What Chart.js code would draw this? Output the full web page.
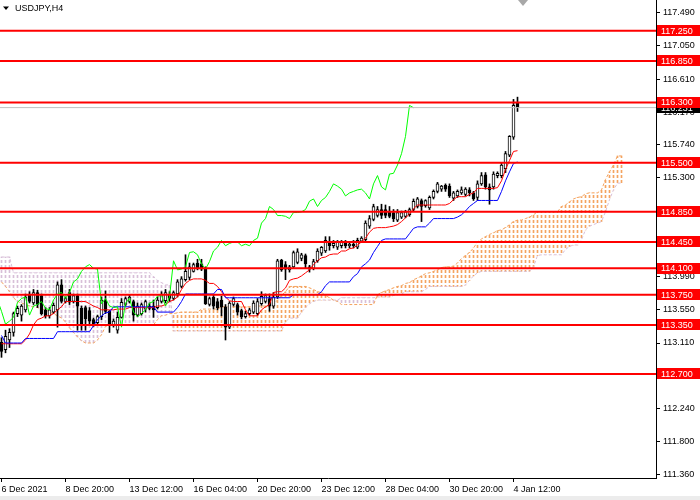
<!DOCTYPE html>
<html>
<head>
<meta charset="utf-8">
<script src="https://cdn.jsdelivr.net/npm/chart.js@4.4.1/dist/chart.umd.min.js"></script>
<style>
  html, body { margin: 0; padding: 0; background: #ececec; }
  #wrap { width: 700px; height: 496px; background: #fff; }
</style>
</head>
<body>
<div id="wrap"><canvas id="chart"></canvas></div>
<script>
const symbolTitle = "USDJPY,H4";

// H4 candles, one per bar
const opens = [
  113.12, 113.02, 113.15, 113.25, 113.50, 113.48, 113.55, 113.76, 113.64, 113.78,
  113.74, 113.55, 113.47, 113.52, 113.55, 113.88, 113.66, 113.78, 113.66, 113.74,
  113.57, 113.58, 113.54, 113.42, 113.38, 113.46, 113.68, 113.53, 113.35, 113.28,
  113.45, 113.62, 113.66, 113.66, 113.48, 113.50, 113.56, 113.60, 113.60, 113.58,
  113.66, 113.67, 113.76, 113.70, 113.76, 113.86, 113.95, 113.98, 114.06, 114.17,
  114.16, 114.10, 113.62, 113.72, 113.66, 113.68, 113.59, 113.32, 113.62, 113.62,
  113.54, 113.46, 113.50, 113.52, 113.50, 113.63, 113.66, 113.70, 113.60, 113.72,
  114.21, 114.15, 114.08, 114.12, 114.18, 114.23, 114.27, 114.12, 114.10, 114.20,
  114.30, 114.33, 114.45, 114.40, 114.38, 114.40, 114.44, 114.40, 114.42, 114.38,
  114.46, 114.48, 114.66, 114.75, 114.80, 114.88, 114.88, 114.86, 114.84, 114.74,
  114.78, 114.79, 114.81, 114.88, 114.92, 115.00, 114.93, 114.90, 115.04, 115.12,
  115.15, 115.20, 115.19, 115.03, 115.06, 115.10, 115.08, 115.14, 115.10, 115.04,
  115.22, 115.34, 115.18, 115.18, 115.33, 115.33, 115.42, 115.60, 115.84, 116.30
];
const highs = [
  113.18, 113.28, 113.30, 113.52, 113.60, 113.62, 113.76, 113.79, 113.82, 113.81,
  113.76, 113.58, 113.58, 113.64, 113.92, 113.95, 113.72, 113.82, 113.76, 113.76,
  113.60, 113.60, 113.58, 113.44, 113.48, 113.72, 113.80, 113.54, 113.43, 113.52,
  113.70, 113.72, 113.74, 113.68, 113.64, 113.64, 113.68, 113.64, 113.68, 113.72,
  113.79, 113.82, 113.79, 113.80, 113.95, 113.99, 114.28, 114.17, 114.17, 114.22,
  114.22, 114.12, 113.72, 113.75, 113.70, 113.73, 113.62, 113.66, 113.72, 113.64,
  113.56, 113.53, 113.57, 113.67, 113.70, 113.79, 113.76, 113.76, 113.78, 114.22,
  114.22, 114.19, 114.14, 114.33, 114.36, 114.30, 114.29, 114.14, 114.22, 114.36,
  114.39, 114.52, 114.52, 114.47, 114.47, 114.47, 114.47, 114.44, 114.47, 114.50,
  114.52, 114.73, 114.80, 114.95, 114.92, 114.95, 114.94, 114.92, 114.88, 114.88,
  114.86, 114.87, 114.90, 115.02, 115.04, 115.02, 115.01, 115.06, 115.14, 115.24,
  115.20, 115.22, 115.22, 115.12, 115.14, 115.18, 115.17, 115.17, 115.12, 115.26,
  115.37, 115.37, 115.22, 115.38, 115.38, 115.50, 115.65, 115.86, 116.34, 116.37
];
const lows = [
  112.92, 112.98, 113.05, 113.20, 113.46, 113.40, 113.52, 113.64, 113.62, 113.58,
  113.48, 113.44, 113.44, 113.50, 113.32, 113.64, 113.64, 113.62, 113.64, 113.28,
  113.28, 113.28, 113.36, 113.33, 113.36, 113.42, 113.50, 113.25, 113.32, 113.24,
  113.44, 113.60, 113.64, 113.40, 113.46, 113.48, 113.52, 113.55, 113.45, 113.56,
  113.64, 113.64, 113.66, 113.68, 113.72, 113.84, 113.93, 113.95, 114.05, 114.08,
  114.07, 113.62, 113.60, 113.56, 113.55, 113.47, 113.15, 113.30, 113.60, 113.48,
  113.43, 113.44, 113.48, 113.50, 113.48, 113.61, 113.64, 113.53, 113.57, 113.70,
  114.06, 113.95, 114.05, 114.10, 114.16, 114.20, 114.10, 114.05, 114.08, 114.18,
  114.27, 114.31, 114.34, 114.37, 114.35, 114.37, 114.37, 114.37, 114.37, 114.36,
  114.44, 114.46, 114.63, 114.73, 114.78, 114.76, 114.77, 114.77, 114.72, 114.72,
  114.76, 114.77, 114.79, 114.86, 114.90, 114.72, 114.91, 114.88, 115.02, 115.10,
  115.12, 115.12, 115.04, 115.00, 115.04, 115.08, 115.06, 115.06, 115.00, 115.00,
  115.20, 115.15, 114.95, 115.15, 115.30, 115.30, 115.37, 115.58, 115.81, 116.18
];
const closes = [
  113.00, 113.20, 113.25, 113.50, 113.57, 113.60, 113.72, 113.66, 113.78, 113.62,
  113.50, 113.47, 113.55, 113.61, 113.88, 113.66, 113.70, 113.65, 113.74, 113.60,
  113.35, 113.43, 113.40, 113.35, 113.46, 113.68, 113.53, 113.36, 113.40, 113.45,
  113.65, 113.70, 113.72, 113.48, 113.60, 113.62, 113.66, 113.57, 113.55, 113.68,
  113.76, 113.78, 113.70, 113.78, 113.92, 113.96, 114.06, 114.12, 114.15, 114.10,
  114.09, 113.63, 113.70, 113.60, 113.58, 113.59, 113.32, 113.64, 113.70, 113.52,
  113.46, 113.50, 113.55, 113.64, 113.66, 113.73, 113.74, 113.60, 113.72, 114.20,
  114.08, 114.09, 114.12, 114.31, 114.32, 114.28, 114.16, 114.09, 114.19, 114.33,
  114.38, 114.47, 114.40, 114.43, 114.45, 114.45, 114.40, 114.42, 114.40, 114.47,
  114.50, 114.70, 114.76, 114.92, 114.88, 114.80, 114.80, 114.79, 114.76, 114.84,
  114.84, 114.85, 114.88, 114.99, 115.02, 114.92, 115.00, 115.04, 115.12, 115.22,
  115.19, 115.15, 115.06, 115.10, 115.12, 115.14, 115.15, 115.10, 115.02, 115.22,
  115.33, 115.18, 115.14, 115.35, 115.36, 115.47, 115.62, 115.85, 116.26, 116.23
];

// Ichimoku lines
const tenkan = [
  113.10, 113.10, 113.10, 113.10, 113.10, 113.10, 113.15, 113.23, 113.35, 113.42,
  113.44, 113.47, 113.47, 113.50, 113.55, 113.59, 113.66, 113.66, 113.66, 113.66,
  113.66, 113.66, 113.63, 113.60, 113.58, 113.55, 113.55, 113.55, 113.55, 113.56,
  113.56, 113.56, 113.58, 113.58, 113.58, 113.58, 113.58, 113.58, 113.58, 113.60,
  113.60, 113.62, 113.66, 113.68, 113.72, 113.82, 113.90, 113.94, 113.96, 113.96,
  113.96, 113.94, 113.90, 113.90, 113.86, 113.79, 113.72, 113.67, 113.66, 113.66,
  113.66, 113.55, 113.47, 113.47, 113.47, 113.55, 113.59, 113.62, 113.78, 113.79,
  113.79, 113.84, 113.94, 113.96, 113.97, 114.00, 114.04, 114.08, 114.15, 114.20,
  114.24, 114.25, 114.28, 114.29, 114.29, 114.33, 114.33, 114.36, 114.37, 114.41,
  114.45, 114.50, 114.58, 114.63, 114.64, 114.64, 114.64, 114.65, 114.66, 114.68,
  114.72, 114.77, 114.82, 114.89, 114.94, 114.94, 114.94, 114.94, 114.94, 114.94,
  114.94, 114.94, 114.96, 115.01, 115.05, 115.05, 115.05, 115.08, 115.10, 115.16,
  115.16, 115.16, 115.16, 115.16, 115.17, 115.26, 115.41, 115.53, 115.65, 115.66
];
const kijun = [
  113.21, 113.11, 113.11, 113.11, 113.11, 113.11, 113.17, 113.17, 113.17, 113.17,
  113.17, 113.17, 113.17, 113.17, 113.26, 113.26, 113.26, 113.26, 113.26, 113.26,
  113.26, 113.26, 113.26, 113.34, 113.42, 113.47, 113.51, 113.52, 113.59, 113.59,
  113.59, 113.59, 113.59, 113.59, 113.59, 113.59, 113.59, 113.59, 113.59, 113.52,
  113.52, 113.52, 113.52, 113.52, 113.58, 113.66, 113.76, 113.76, 113.76, 113.76,
  113.76, 113.76, 113.76, 113.76, 113.82, 113.82, 113.71, 113.71, 113.71, 113.71,
  113.71, 113.71, 113.71, 113.71, 113.71, 113.71, 113.71, 113.71, 113.71, 113.71,
  113.71, 113.71, 113.71, 113.75, 113.75, 113.75, 113.75, 113.75, 113.75, 113.75,
  113.79, 113.87, 113.92, 113.92, 113.92, 113.92, 113.92, 113.92, 113.99, 114.03,
  114.12, 114.16, 114.21, 114.31, 114.39, 114.47, 114.49, 114.49, 114.49, 114.49,
  114.49, 114.49, 114.56, 114.63, 114.65, 114.65, 114.65, 114.70, 114.76, 114.76,
  114.76, 114.76, 114.76, 114.76, 114.78, 114.81, 114.86, 114.92, 114.96, 115.00,
  115.00, 115.00, 115.00, 115.00, 115.00, 115.12, 115.26, 115.38, 115.49, 115.51
];
// Senkou spans, already drawn 26 bars ahead
const spanA = [
  113.92, 113.86, 113.79, 113.71, 113.66, 113.64, 113.62, 113.60, 113.59, 113.58,
  113.56, 113.55, 113.52, 113.50, 113.47, 113.44, 113.39, 113.31, 113.25, 113.19,
  113.14, 113.11, 113.11, 113.11, 113.15, 113.22, 113.33, 113.35, 113.35, 113.35,
  113.35, 113.35, 113.35, 113.35, 113.35, 113.35, 113.35, 113.35, 113.35, 113.42,
  113.47, 113.48, 113.50, 113.50, 113.51, 113.52, 113.52, 113.52, 113.52, 113.52,
  113.56, 113.56, 113.56, 113.56, 113.56, 113.59, 113.59, 113.59, 113.59, 113.59,
  113.59, 113.59, 113.59, 113.60, 113.60, 113.60, 113.60, 113.60, 113.62, 113.68,
  113.74, 113.79, 113.86, 113.86, 113.86, 113.86, 113.86, 113.84, 113.82, 113.79,
  113.78, 113.74, 113.71, 113.68, 113.66, 113.62, 113.62, 113.62, 113.62, 113.62,
  113.62, 113.62, 113.62, 113.62, 113.75, 113.78, 113.80, 113.82, 113.84, 113.86,
  113.87, 113.90, 113.91, 113.95, 113.97, 114.00, 114.03, 114.04, 114.06, 114.08,
  114.11, 114.12, 114.12, 114.13, 114.17, 114.23, 114.27, 114.31, 114.37, 114.45,
  114.49, 114.52, 114.55, 114.57, 114.60, 114.61, 114.64, 114.68, 114.72, 114.74,
  114.74, 114.76, 114.78, 114.81, 114.85, 114.85, 114.85, 114.85, 114.85, 114.85,
  114.92, 114.94, 114.98, 115.02, 115.04, 115.05, 115.09, 115.10, 115.10, 115.10,
  115.14, 115.28, 115.38, 115.47, 115.59, 115.59
];
const spanB = [
  114.25, 114.25, 114.25, 114.04, 114.04, 114.04, 114.04, 114.04, 114.04, 114.04,
  114.04, 114.04, 114.04, 114.04, 114.04, 114.04, 114.04, 114.04, 114.04, 114.04,
  114.04, 114.04, 114.04, 114.04, 114.04, 114.04, 114.04, 114.04, 114.04, 114.04,
  114.04, 114.04, 114.04, 114.04, 114.04, 114.04, 114.04, 114.04, 113.99, 113.94,
  113.91, 113.88, 113.88, 113.27, 113.27, 113.27, 113.27, 113.27, 113.27, 113.27,
  113.27, 113.27, 113.27, 113.27, 113.27, 113.27, 113.27, 113.27, 113.27, 113.27,
  113.27, 113.27, 113.27, 113.27, 113.27, 113.27, 113.27, 113.27, 113.27, 113.27,
  113.27, 113.39, 113.44, 113.44, 113.44, 113.52, 113.58, 113.63, 113.66, 113.68,
  113.68, 113.68, 113.68, 113.68, 113.68, 113.71, 113.71, 113.71, 113.71, 113.71,
  113.71, 113.71, 113.71, 113.71, 113.72, 113.72, 113.72, 113.72, 113.74, 113.75,
  113.76, 113.79, 113.79, 113.79, 113.79, 113.79, 113.82, 113.86, 113.86, 113.86,
  113.86, 113.86, 113.86, 113.86, 113.86, 113.86, 113.88, 113.94, 114.00, 114.04,
  114.06, 114.06, 114.06, 114.06, 114.06, 114.06, 114.06, 114.06, 114.06, 114.06,
  114.06, 114.06, 114.06, 114.12, 114.27, 114.28, 114.28, 114.28, 114.28, 114.28,
  114.28, 114.35, 114.39, 114.41, 114.41, 114.48, 114.61, 114.66, 114.68, 114.70,
  114.72, 114.85, 115.01, 115.14, 115.23, 115.23
];
const chikouShift = 26;

const levels = [117.25, 116.85, 116.30, 115.50, 114.85, 114.45, 114.10, 113.75, 113.35, 112.70];
const bid = 116.231;

const yTicks = [117.49, 117.05, 116.61, 116.17, 115.74, 115.30, 114.86, 114.42,
                113.99, 113.55, 113.11, 112.67, 112.24, 111.80, 111.36];
const timeTicks = [0, 16, 32, 48, 64, 80, 96, 112, 128];
const timeLabels = ["6 Dec 2021", "8 Dec 20:00", "13 Dec 12:00", "16 Dec 04:00", "20 Dec 20:00",
                    "23 Dec 12:00", "28 Dec 04:00", "30 Dec 20:00", "4 Jan 12:00"];

const FONT = '"Liberation Sans", Arial, sans-serif';
Chart.defaults.font.family = FONT;
Chart.defaults.font.size = 9;
Chart.defaults.color = "#000";

const canvas = document.getElementById("chart");
const mainCtx = canvas.getContext("2d");

// dotted vertical fill used for the kumo
function dotPattern(color) {
  const c = document.createElement("canvas");
  c.width = 1;
  c.height = 5;
  const g = c.getContext("2d");
  g.fillStyle = color;
  g.fillRect(0, 0, 1, 3);
  return mainCtx.createPattern(c, "repeat");
}
const upKumo = dotPattern("#f4a460");
const downKumo = dotPattern("#d8bfd8");

const xy = (arr, shift = 0) => arr.map((v, i) => ({ x: i - shift, y: v }));
const X_MIN = -0.375, X_MAX = 163.625;

const lineDs = (data, color, order, extra = {}) => Object.assign({
  type: "line", data, borderColor: color, borderWidth: 1,
  pointRadius: 0, tension: 0, fill: false, order
}, extra);

const datasets = [
  {
    type: "bar",
    data: spanA.map((a, i) => ({ x: i, y: [a, spanB[i]] })),
    backgroundColor: spanA.map((a, i) => (a >= spanB[i] ? upKumo : downKumo)),
    barThickness: 1, grouped: false, order: 10
  },
  lineDs(xy(spanA), "#f4a460", 9, { borderDash: [3, 2] }),
  lineDs(xy(spanB), "#d8bfd8", 9, { borderDash: [3, 2] }),
  {
    type: "bar",
    data: lows.map((l, i) => ({ x: i, y: [l, highs[i]] })),
    backgroundColor: "#000",
    barThickness: 1, grouped: false, order: 8
  },
  {
    type: "bar",
    data: opens.map((o, i) => ({ x: i, y: [o, closes[i]] })),
    backgroundColor: opens.map((o, i) => (closes[i] >= o ? "#fff" : "#000")),
    borderColor: "#000", borderWidth: 1, borderSkipped: false,
    barThickness: 3, minBarLength: 1, grouped: false, order: 7
  },
  lineDs(xy(closes, chikouShift), "#00ff00", 6),
  lineDs(xy(kijun), "#0000ff", 6),
  lineDs(xy(tenkan), "#ff0000", 6),
  lineDs([{ x: X_MIN, y: bid }, { x: X_MAX, y: bid }], "#c0c0c0", 5)
].concat(levels.map(lv =>
  lineDs([{ x: X_MIN, y: lv }, { x: X_MAX, y: lv }], "#ff0000", 4, { borderWidth: 2 })
));

const overlay = {
  id: "overlay",
  afterDraw(chart) {
    const { ctx, chartArea, scales } = chart;
    const y = scales.y, x = scales.x;
    const bx = chartArea.right + 1, bw = 43, bh = 11;
    ctx.save();
    ctx.font = "9px " + FONT;
    ctx.textBaseline = "middle";
    ctx.textAlign = "left";

    let py = y.getPixelForValue(bid);
    ctx.fillStyle = "#000";
    ctx.fillRect(bx, Math.round(py - bh / 2), bw, bh);
    ctx.fillStyle = "#fff";
    ctx.fillText(bid.toFixed(3), bx + 4, py + 0.5);

    levels.forEach(lv => {
      const p = y.getPixelForValue(lv);
      ctx.fillStyle = "#ff0000";
      ctx.fillRect(bx, Math.round(p - bh / 2), bw, bh);
      ctx.fillStyle = "#fff";
      ctx.fillText(lv.toFixed(3), bx + 4, p + 0.5);
    });

    // symbol caption
    ctx.fillStyle = "#000";
    ctx.beginPath();
    ctx.moveTo(3, 6.5);
    ctx.lineTo(9, 6.5);
    ctx.lineTo(6, 10);
    ctx.closePath();
    ctx.fill();
    ctx.fillText(symbolTitle, 15, 8.5);

    // chart shift marker
    const sx = Math.round(x.getPixelForValue(130.25));
    ctx.fillStyle = "#a8a8a8";
    ctx.beginPath();
    ctx.moveTo(sx - 5, 0);
    ctx.lineTo(sx + 5, 0);
    ctx.lineTo(sx, 6);
    ctx.closePath();
    ctx.fill();
    ctx.restore();
  }
};

new Chart(canvas, {
  type: "bar",
  data: { datasets },
  options: {
    responsive: true,
    maintainAspectRatio: false,
    animation: false,
    devicePixelRatio: 1,
    events: [],
    layout: { padding: 0 },
    plugins: { legend: { display: false }, tooltip: { enabled: false }, title: { display: false } },
    scales: {
      x: {
        type: "linear",
        min: X_MIN,
        max: X_MAX,
        offset: false,
        grid: { offset: false, drawOnChartArea: false, drawTicks: true, tickLength: 4, color: "#000" },
        border: { display: true, color: "#000", width: 1 },
        afterBuildTicks: s => { s.ticks = timeTicks.map(v => ({ value: v })); },
        afterFit: s => { s.height = 18; s.paddingLeft = 0; s.paddingRight = 0; },
        ticks: {
          autoSkip: false, maxRotation: 0, minRotation: 0, align: "start", padding: 2,
          callback: (v, i) => timeLabels[i]
        }
      },
      y: {
        type: "linear",
        position: "right",
        min: 111.32,
        max: 117.658,
        grid: { drawOnChartArea: false, drawTicks: true, tickLength: 4, color: "#000" },
        border: { display: true, color: "#000", width: 1 },
        afterBuildTicks: s => { s.ticks = yTicks.map(v => ({ value: v })); },
        afterFit: s => { s.width = 44; s.paddingTop = 0; s.paddingBottom = 0; },
        ticks: { autoSkip: false, padding: 3, callback: v => v.toFixed(3) }
      }
    }
  },
  plugins: [overlay]
});
</script>
</body>
</html>
